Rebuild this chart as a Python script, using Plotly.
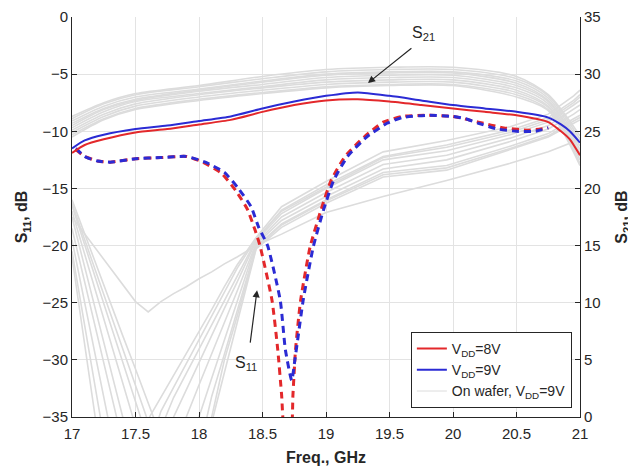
import plotly.graph_objects as go

# ---------------- data ----------------
# S21 (right axis, dB) measured
f_s21 = [17.0, 17.1, 17.25, 17.5, 17.75, 18.0, 18.25, 18.5, 18.75, 19.0, 19.25, 19.5, 19.75, 20.0, 20.25, 20.5, 20.75, 20.85, 20.92, 21.0]
s21_8v = [23.1, 23.8, 24.3, 24.9, 25.2, 25.6, 26.0, 26.7, 27.3, 27.7, 27.8, 27.6, 27.3, 27.0, 26.7, 26.4, 25.8, 25.0, 24.3, 22.9]
s21_9v = [23.5, 24.2, 24.7, 25.2, 25.5, 25.9, 26.3, 27.0, 27.6, 28.1, 28.4, 28.1, 27.7, 27.3, 27.0, 26.7, 26.2, 25.6, 25.0, 24.0]

# S11 (left axis, dB) measured
f_s11_8v = [17.03, 17.1, 17.2, 17.3, 17.5, 17.7, 17.9, 18.03, 18.18, 18.29, 18.38, 18.44, 18.48, 18.575, 18.62, 18.65, 18.68, 18.72, 18.74, 18.76, 18.80, 18.875, 18.96, 19.04, 19.15, 19.30, 19.45, 19.6, 19.8, 20.0, 20.2, 20.4, 20.6, 20.75]
s11_8v = [-11.6, -12.2, -12.6, -12.7, -12.4, -12.3, -12.2, -12.7, -13.7, -15.2, -16.8, -18.6, -20.0, -24.8, -29.1, -33.0, -37.0, -37.0, -33.0, -29.1, -24.8, -20.1, -16.9, -14.3, -12.2, -10.5, -9.2, -8.7, -8.6, -8.7, -9.2, -9.7, -9.9, -9.7]
f_s11_9v = [17.03, 17.1, 17.2, 17.3, 17.5, 17.7, 17.9, 18.05, 18.2, 18.31, 18.41, 18.47, 18.54, 18.64, 18.68, 18.73, 18.755, 18.78, 18.82, 18.90, 18.98, 19.06, 19.17, 19.32, 19.48, 19.6, 19.8, 20.0, 20.1, 20.2, 20.35, 20.5, 20.65, 20.75]
s11_9v = [-11.5, -12.2, -12.6, -12.7, -12.4, -12.3, -12.2, -12.7, -13.6, -15.0, -16.6, -18.4, -20.0, -24.8, -29.1, -31.8, -30.0, -28.0, -24.8, -20.1, -16.9, -14.3, -12.2, -10.5, -9.3, -8.8, -8.6, -8.7, -8.9, -9.3, -9.8, -10.0, -10.0, -9.7]

# On-wafer S21 curves (right axis)
f_w21 = [17.0, 17.25, 17.5, 18.0, 18.5, 19.0, 19.5, 20.0, 20.5, 20.75, 21.0]
w21_1 = [26.3, 27.5, 28.3, 29.0, 29.8, 30.4, 30.6, 30.6, 29.8, 28.2, 24.6]
w21_2 = [26.1, 27.4, 28.2, 28.9, 29.6, 30.2, 30.4, 30.4, 29.6, 28.1, 24.3]
w21_3 = [25.9, 27.2, 28.0, 28.7, 29.4, 30.0, 30.2, 30.2, 29.4, 27.9, 24.0]
w21_4 = [25.7, 27.0, 27.8, 28.6, 29.3, 29.9, 30.1, 30.1, 29.2, 27.7, 23.7]
w21_5 = [25.5, 26.9, 27.7, 28.5, 29.1, 29.7, 29.9, 29.9, 29.0, 27.6, 23.4]
w21_6 = [25.3, 26.7, 27.6, 28.3, 28.9, 29.5, 29.7, 29.7, 28.8, 27.4, 23.1]
w21_7 = [25.1, 26.5, 27.4, 28.2, 28.8, 29.3, 29.5, 29.5, 28.6, 27.2, 22.8]
w21_8 = [24.9, 26.3, 27.2, 28.0, 28.6, 29.1, 29.3, 29.3, 28.4, 27.1, 22.5]
w21_9 = [24.7, 26.1, 27.0, 27.8, 28.4, 28.9, 29.1, 29.1, 28.2, 26.9, 22.2]
w21_10 = [24.5, 26.0, 26.9, 27.7, 28.3, 28.8, 29.0, 29.0, 28.0, 26.8, 22.0]

# On-wafer S11 curves (left axis)
f_w11 = [17.0, 17.1, 17.2, 17.3, 17.4, 17.5, 17.6, 17.7, 17.8, 17.9, 18.0, 18.1, 18.2, 18.3, 18.45, 18.65, 19.0, 19.45, 19.95, 20.45, 20.75, 20.95, 21.0]
w11_a = [-20.5, -27.0, -33.6, -40.0, -45.0, -42.0, -35.2, -33.3, -31.4, -29.4, -27.5, -25.6, -23.6, -21.7, -19.3, -16.6, -14.4, -11.8, -10.8, -9.6, -8.5, -6.9, -6.4]
w11_b = [-19.5, -25.0, -30.6, -36.0, -42.0, -45.0, -42.0, -36.0, -33.3, -31.2, -29.1, -26.9, -24.8, -22.7, -19.5, -16.9, -14.7, -12.2, -11.2, -9.9, -8.8, -7.3, -6.8]
w11_c = [-18.5, -23.2, -27.9, -32.6, -37.4, -42.0, -45.0, -42.0, -35.0, -32.6, -30.3, -27.9, -25.5, -23.2, -19.6, -17.2, -15.0, -12.5, -11.7, -10.3, -9.2, -7.7, -7.3]
w11_d = [-17.5, -21.9, -26.3, -30.6, -35.0, -39.4, -43.0, -45.0, -41.0, -35.0, -32.2, -29.5, -26.7, -24.0, -19.8, -17.5, -15.35, -12.9, -12.1, -10.6, -9.5, -8.1, -7.7]
w11_e = [-17.0, -20.8, -24.5, -28.3, -32.0, -35.8, -39.5, -43.0, -45.0, -40.0, -35.0, -31.6, -28.3, -24.9, -19.9, -17.8, -15.7, -13.3, -12.5, -10.9, -9.8, -8.5, -8.1]
w11_f = [-16.5, -19.9, -23.4, -26.8, -30.2, -33.6, -37.1, -40.5, -44.0, -45.0, -38.0, -33.2, -29.5, -25.8, -20.1, -18.1, -16.0, -13.6, -13.0, -11.3, -10.2, -8.9, -8.6]
w11_g = [-16.0, -19.0, -21.9, -24.9, -27.9, -30.8, -33.8, -36.8, -39.7, -42.7, -42.0, -35.5, -31.1, -26.8, -20.3, -18.4, -16.3, -14.0, -13.4, -11.6, -10.5, -9.3, -9.0]
w11_h = [-17.5, -19.0, -20.5, -21.9, -23.4, -24.9, -25.8, -24.9, -24.2, -23.6, -22.9, -22.3, -21.6, -21.0, -20.0, -19.0, -17.1, -15.7, -14.3, -12.8, -11.8, -10.9, -10.7]
w11_i = [-21.0, -29.0, -37.0, -44.0, -45.0, -44.0, -38.0, -34.5, -32.4, -30.3, -28.2, -26.2, -24.1, -22.0, -19.4, -17.0, -14.9, -12.3, -11.4, -10.1, -9.0, -7.5, -7.0]
w11_j = [-16.3, -19.5, -22.6, -25.8, -29.0, -32.2, -35.4, -38.6, -41.8, -44.0, -40.0, -35.0, -30.0, -26.2, -20.2, -18.2, -16.1, -13.8, -13.2, -11.5, -10.4, -9.1, -8.8]

x_ticks = [17, 17.5, 18, 18.5, 19, 19.5, 20, 20.5, 21]
x_ticktext = ["17", "17.5", "18", "18.5", "19", "19.5", "20", "20.5", "21"]
y1_ticks = [-35, -30, -25, -20, -15, -10, -5, 0]
y2_ticks = [0, 5, 10, 15, 20, 25, 30, 35]

# ---------------- styles ----------------
RED = "#e3282b"
BLUE = "#2b2bd4"
GRAY = "#dcdcdc"
AX = "#262626"
FONT = "Liberation Sans, Arial, sans-serif"

fig = go.Figure()

w11_all = [w11_a, w11_b, w11_c, w11_d, w11_e, w11_f, w11_g, w11_h, w11_i, w11_j]
for w in w11_all:
    fig.add_trace(go.Scatter(x=f_w11, y=w, mode="lines", yaxis="y",
                             line=dict(color=GRAY, width=1.6),
                             name="On wafer, V<sub>DD</sub>=9V",
                             legendgroup="w", showlegend=False, hoverinfo="skip"))

fig.add_trace(go.Scatter(x=f_s11_8v, y=s11_8v, mode="lines", yaxis="y",
                         line=dict(color=RED, width=3, dash="7px,5px", shape="spline", smoothing=0.5),
                         showlegend=False, legendgroup="r"))
fig.add_trace(go.Scatter(x=f_s11_9v, y=s11_9v, mode="lines", yaxis="y",
                         line=dict(color=BLUE, width=3, dash="7px,5px", shape="spline", smoothing=0.5),
                         showlegend=False, legendgroup="b"))

w21_all = [w21_1, w21_2, w21_3, w21_4, w21_5, w21_6, w21_7, w21_8, w21_9, w21_10]
for w in w21_all:
    fig.add_trace(go.Scatter(x=f_w21, y=w, mode="lines", yaxis="y2",
                             line=dict(color=GRAY, width=1.6, shape="spline", smoothing=0.8),
                             name="On wafer, V<sub>DD</sub>=9V",
                             legendgroup="w", showlegend=False, hoverinfo="skip"))

fig.add_trace(go.Scatter(x=f_s21, y=s21_8v, mode="lines", yaxis="y2",
                         line=dict(color=RED, width=2, shape="spline", smoothing=0.6),
                         name="V<sub>DD</sub>=8V", legendgroup="r", legendrank=1))
fig.add_trace(go.Scatter(x=f_s21, y=s21_9v, mode="lines", yaxis="y2",
                         line=dict(color=BLUE, width=2, shape="spline", smoothing=0.6),
                         name="V<sub>DD</sub>=9V", legendgroup="b", legendrank=2))
fig.add_trace(go.Scatter(x=[None], y=[None], mode="lines", yaxis="y2",
                         line=dict(color=GRAY, width=1),
                         name="On wafer, V<sub>DD</sub>=9V", legendgroup="w", legendrank=3))

tickfont = dict(family=FONT, size=15, color=AX)
titlefont = dict(family=FONT, size=16, color=AX, weight="bold")

# the page body has an 8px default margin, so the figure is sized to fit the window
fig.update_layout(
    width=628, height=463,
    margin=dict(l=64, r=56, t=9, b=54),
    paper_bgcolor="white", plot_bgcolor="white",
    font=dict(family=FONT, color=AX),
    xaxis=dict(range=[17, 21], tickvals=x_ticks, ticktext=x_ticktext,
               showgrid=True, gridcolor="#e3e3e3", gridwidth=1,
               showline=True, linecolor=AX, linewidth=1,
               ticks="inside", ticklen=5, tickcolor=AX, tickfont=tickfont,
               ticklabelstandoff=3,
               zeroline=False, automargin=False,
               title=dict(text="<b>Freq., GHz</b>", font=titlefont, standoff=10)),
    yaxis=dict(range=[-35, 0], tickvals=y1_ticks,
               showgrid=True, gridcolor="#e3e3e3", gridwidth=1,
               showline=True, linecolor=AX, linewidth=1,
               ticks="inside", ticklen=5, tickcolor=AX, tickfont=tickfont,
               zeroline=False, automargin=False,
               title=dict(text="<b>S<sub>11</sub>, dB</b>", font=titlefont, standoff=10)),
    yaxis2=dict(range=[0, 35], tickvals=y2_ticks, overlaying="y", side="right",
                showgrid=False, showline=True, linecolor=AX, linewidth=1,
                ticks="inside", ticklen=5, tickcolor=AX, tickfont=tickfont,
                zeroline=False, automargin=False,
                title=dict(text="<b>S<sub>21</sub>, dB</b>", font=titlefont, standoff=16)),
    legend=dict(x=0.984, y=0.0225, xanchor="right", yanchor="bottom",
                bgcolor="white", bordercolor=AX, borderwidth=1,
                font=dict(family=FONT, size=14, color=AX),
                tracegroupgap=0, traceorder="normal"),
    showlegend=True,
)

fig.add_annotation(x=19.33, y=-5.78, xref="x", yref="y", text="", showarrow=True,
                   ax=45, ay=-36, arrowhead=2, arrowsize=1.2, arrowwidth=1.2, arrowcolor=AX)
fig.add_annotation(x=19.77, y=-1.4, xref="x", yref="y", text="S<sub>21</sub>", showarrow=False,
                   font=dict(family=FONT, size=16, color=AX))
fig.add_annotation(x=18.457, y=-23.9, xref="x", yref="y", text="", showarrow=True,
                   ax=-7, ay=54, arrowhead=2, arrowsize=1.2, arrowwidth=1.2, arrowcolor=AX)
fig.add_annotation(x=18.37, y=-30.3, xref="x", yref="y", text="S<sub>11</sub>", showarrow=False,
                   font=dict(family=FONT, size=16, color=AX))

fig.write_html("out.html")
